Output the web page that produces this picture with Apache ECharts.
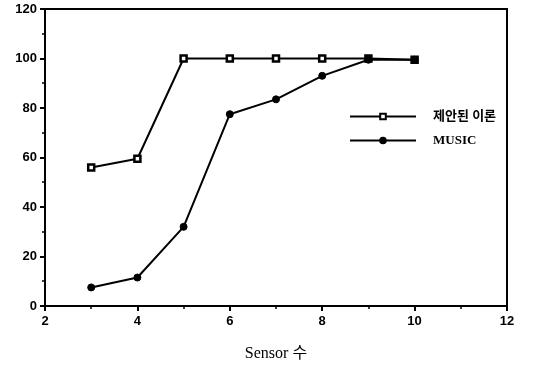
<!DOCTYPE html>
<html>
<head>
<meta charset="utf-8">
<script src="https://cdn.jsdelivr.net/npm/echarts@6/dist/echarts.min.js"></script>
<style>
  html, body { margin: 0; padding: 0; background: #fff; }
  #chart { width: 547px; height: 367px; }
</style>
</head>
<body>
<div id="chart"></div>
<script>
// 센서 수
var sensors = [3, 4, 5, 6, 7, 8, 9, 10];
// 제안된 이론
var proposed = [56, 59.5, 100, 100, 100, 100, 100, 99.5];
// MUSIC
var music = [7.5, 11.5, 32, 77.5, 83.5, 93, 99.5, 99.5];

var xTicks = [2, 4, 6, 8, 10, 12];
var yTicks = [0, 20, 40, 60, 80, 100, 120];

function pairs(ys) {
    return sensors.map(function (x, i) { return [x, ys[i]]; });
}

var myChart = echarts.init(document.getElementById('chart'));
var option = {
    animation: false,
    backgroundColor: '#fff',
    grid: {
        left: 45, right: 40, top: 9, bottom: 59,
        show: true,
        borderColor: '#000',
        borderWidth: 2
    },
    legend: {
        orient: 'vertical',
        left: 344,
        top: 105,
        itemWidth: 66,
        itemHeight: 7,
        itemGap: 11,
        textStyle: {
            color: '#000',
            fontWeight: 'bold',
            fontSize: 13,
            fontFamily: 'Liberation Serif, Noto Sans CJK KR',
            padding: [0, 0, 0, 12]
        },
        data: ['제안된 이론', 'MUSIC']
    },
    xAxis: {
        type: 'value',
        min: xTicks[0],
        max: xTicks[xTicks.length - 1],
        interval: 2,
        name: 'Sensor 수',
        nameLocation: 'middle',
        nameGap: 40,
        nameTextStyle: {
            color: '#000',
            fontSize: 16,
            fontFamily: 'Liberation Serif, Noto Sans CJK KR'
        },
        axisLine: { lineStyle: { color: '#000', width: 2 } },
        axisTick: { inside: false, length: 5, lineStyle: { color: '#000', width: 2 } },
        minorTick: { show: true, splitNumber: 2, length: 3, lineStyle: { color: '#000', width: 1.5 } },
        splitLine: { show: false },
        axisLabel: {
            color: '#000',
            fontWeight: 'bold',
            fontSize: 13,
            fontFamily: 'Liberation Sans',
            margin: 9
        }
    },
    yAxis: {
        type: 'value',
        min: yTicks[0],
        max: yTicks[yTicks.length - 1],
        interval: 20,
        axisLine: { show: true, lineStyle: { color: '#000', width: 2 } },
        axisTick: { show: true, length: 5, lineStyle: { color: '#000', width: 2 } },
        minorTick: { show: true, splitNumber: 2, length: 3, lineStyle: { color: '#000', width: 1.5 } },
        splitLine: { show: false },
        axisLabel: {
            color: '#000',
            fontWeight: 'bold',
            fontSize: 13,
            fontFamily: 'Liberation Sans',
            margin: 8
        }
    },
    series: [
        {
            name: '제안된 이론',
            type: 'line',
            data: pairs(proposed),
            symbol: 'rect',
            symbolSize: 6,
            itemStyle: { color: '#fff', borderColor: '#000', borderWidth: 2.5 },
            lineStyle: { color: '#000', width: 2 }
        },
        {
            name: 'MUSIC',
            type: 'line',
            data: pairs(music),
            symbol: 'circle',
            symbolSize: 7,
            itemStyle: { color: '#000', borderColor: '#000', borderWidth: 1 },
            lineStyle: { color: '#000', width: 2 }
        }
    ]
};
myChart.setOption(option);
</script>
</body>
</html>
